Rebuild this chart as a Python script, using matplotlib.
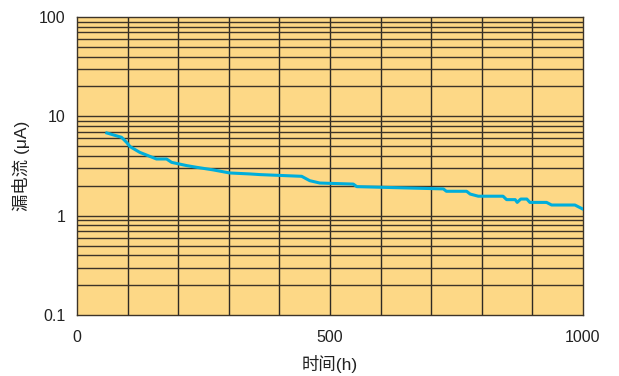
import matplotlib
matplotlib.use("Agg")
import matplotlib.pyplot as plt
from matplotlib.ticker import FixedLocator, NullFormatter

plt.rcParams['font.family'] = ['Liberation Sans', 'Noto Sans CJK SC', 'DejaVu Sans']

# Leakage current over time
hours = [59, 88, 98, 105, 124, 157, 177, 187, 217, 236, 269, 302, 342, 362, 444,
         460, 480, 546, 553, 724, 730, 770, 777, 793, 842, 849, 866, 870, 877,
         889, 895, 928, 938, 984, 999]
current_ua = [6.8, 6.15, 5.47, 4.95, 4.34, 3.72, 3.72, 3.44, 3.19, 3.07, 2.89,
              2.69, 2.63, 2.59, 2.49, 2.25, 2.13, 2.08, 1.96, 1.86, 1.76, 1.76,
              1.65, 1.57, 1.57, 1.45, 1.45, 1.36, 1.47, 1.47, 1.36, 1.36, 1.28,
              1.28, 1.17]

y_ticks = [0.1, 1, 10, 100]
y_ticklabels = ["0.1", "1", "10", "100"]
x_ticks = [0, 500, 1000]
x_ticklabels = ["0", "500", "1000"]

fig = plt.figure(figsize=(6.19, 3.76), dpi=100)
ax = fig.add_axes([77/619, 1 - 315/376, 506/619, 298/376])
ax.set_facecolor('#FDD886')

ax.set_xlim(0, 1000)
ax.set_yscale('log')
ax.set_ylim(0.1, 100)

grid_color = '#3d3428'
for xv in range(100, 1000, 100):
    ax.axvline(xv, color='#2e2a24', lw=1.0, zorder=1)
for dec in [0.1, 1, 10]:
    for m in range(1, 10):
        yv = dec * m
        if yv > 0.1:
            ax.axhline(yv, color=grid_color, lw=1.0, zorder=1)

ax.plot(hours, current_ua, color='#00AEDB', lw=2.2, zorder=3, solid_joinstyle='round')

ax.yaxis.set_major_locator(FixedLocator(y_ticks))
ax.set_yticklabels(y_ticklabels)
ax.yaxis.set_minor_locator(FixedLocator([]))
ax.yaxis.set_minor_formatter(NullFormatter())
ax.set_xticks(x_ticks)
ax.set_xticklabels(x_ticklabels)
ax.tick_params(axis='both', length=0, labelsize=11.5, colors='#222222')
ax.tick_params(axis='x', pad=11)
ax.tick_params(axis='y', pad=8.5)

for s in ax.spines.values():
    s.set_color(grid_color)
    s.set_linewidth(1.0)

ax.set_xlabel('时间(h)', fontsize=12.5, color='#222222', labelpad=7)
ax.set_ylabel('漏电流 (μA)', fontsize=12.5, color='#222222', labelpad=6)

fig.savefig('out.png', dpi=100)
